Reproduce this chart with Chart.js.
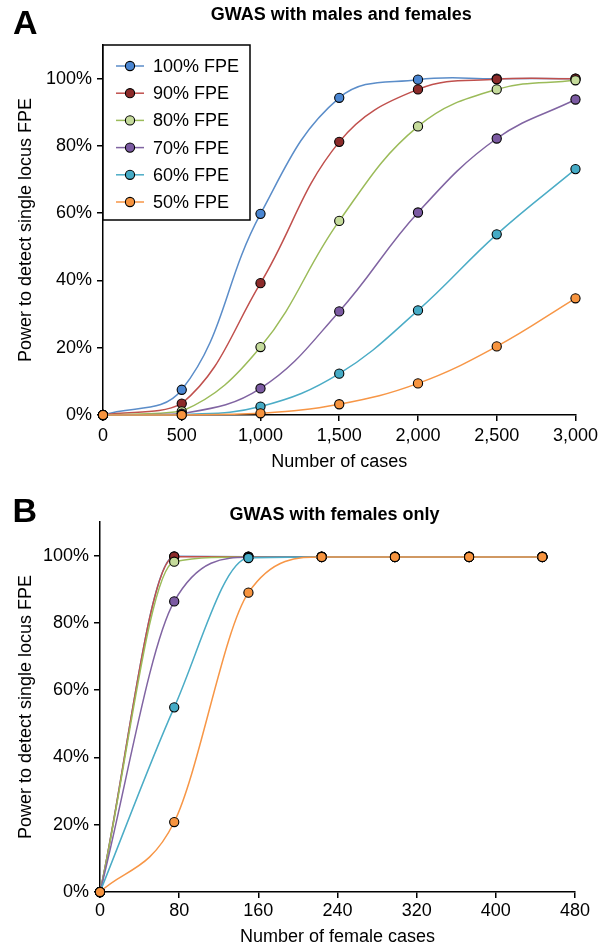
<!DOCTYPE html>
<html>
<head>
<meta charset="utf-8">
<title>GWAS power</title>
<script src="https://cdn.jsdelivr.net/npm/chart.js@4/dist/chart.umd.min.js"></script>
<style>
  html, body { margin: 0; padding: 0; background: #fff; }
  canvas { display: block; }
</style>
</head>
<body>
<canvas id="chartA" width="602" height="476"></canvas>
<canvas id="chartB" width="602" height="474"></canvas>
<script>
// series names and colours (line colour, marker fill)
const seriesLabels = ['100% FPE', '90% FPE', '80% FPE', '70% FPE', '60% FPE', '50% FPE'];
const lineColors = ['#5B8DC9', '#C0504D', '#9BBB59', '#8064A2', '#4BACC6', '#F79646'];
const markerColors = ['#4A86D2', '#8C2B2A', '#C5DB9B', '#7B5AA2', '#45ABC6', '#F7943F'];

// A: males and females
const casesA = [0, 500, 1000, 1500, 2000, 2500, 3000];
const powerA100 = [0, 7.5, 59.8, 94.3, 99.7, 100, 100];
const powerA90 = [0, 3.4, 39.2, 81.2, 96.8, 99.8, 100];
const powerA80 = [0, 1.1, 20.2, 57.7, 85.8, 96.8, 99.5];
const powerA70 = [0, 0.4, 7.9, 30.8, 60.2, 82.2, 93.8];
const powerA60 = [0, 0.1, 2.5, 12.3, 31.1, 53.7, 73.1];
const powerA50 = [0, 0, 0.5, 3.2, 9.4, 20.4, 34.7];

// B: females only
const casesB = [0, 75, 150, 224, 298, 373, 447];
const powerB100 = [0, 99.8, 99.7, 99.7, 99.7, 99.7, 99.7];
const powerB90 = [0, 99.7, 99.7, 99.7, 99.7, 99.7, 99.7];
const powerB80 = [0, 98.2, 99.6, 99.6, 99.6, 99.6, 99.6];
const powerB70 = [0, 86.4, 99.5, 99.6, 99.6, 99.6, 99.6];
const powerB60 = [0, 54.9, 99.3, 99.6, 99.6, 99.6, 99.6];
const powerB50 = [0, 20.8, 89.0, 99.6, 99.6, 99.6, 99.6];

const powerTicks = [0, 20, 40, 60, 80, 100];

const FONT = '"Liberation Sans", Arial, Helvetica, sans-serif';
Chart.defaults.font.family = FONT;
Chart.defaults.font.size = 18;
Chart.defaults.color = '#000';

function buildDatasets(xs, series, mode) {
  return series.map((ys, i) => ({
    label: seriesLabels[i],
    data: xs.map((x, k) => ({ x: x, y: ys[k] })),
    borderColor: lineColors[i],
    borderWidth: 1.5,
    backgroundColor: markerColors[i],
    pointBackgroundColor: markerColors[i],
    pointBorderColor: '#000',
    pointBorderWidth: 1.1,
    pointRadius: 4.6,
    tension: 0.4,
    cubicInterpolationMode: mode,
    clip: false,
    order: series.length - i
  }));
}

// panel letter and bold heading
const panelHeading = {
  id: 'panelHeading',
  afterDraw(chart, args, opts) {
    const ctx = chart.ctx;
    const area = chart.chartArea;
    ctx.save();
    ctx.fillStyle = '#000';
    ctx.textBaseline = 'alphabetic';
    ctx.font = 'bold 34px ' + FONT;
    ctx.fillText(opts.letter, opts.letterX, opts.letterBase);
    ctx.font = 'bold 18px ' + FONT;
    ctx.textAlign = 'center';
    ctx.textBaseline = 'middle';
    ctx.fillText(opts.title, (area.left + area.right) / 2 + opts.titleShift, opts.titleY);
    ctx.restore();
  }
};

// boxed legend sitting in the top-left corner of the plot
const insideLegend = {
  id: 'insideLegend',
  afterDatasetsDraw(chart, args, opts) {
    if (!opts.show) return;
    const ctx = chart.ctx;
    const left = chart.chartArea.left;
    const top = chart.chartArea.top;
    ctx.save();
    ctx.fillStyle = '#fff';
    ctx.fillRect(left, top, 147, 175);
    ctx.strokeStyle = '#000';
    ctx.lineWidth = 1.5;
    ctx.strokeRect(left, top, 147, 175);
    ctx.font = '18px ' + FONT;
    ctx.textBaseline = 'middle';
    chart.data.datasets.forEach((ds, i) => {
      const y = top + 21 + i * 27.2;
      ctx.strokeStyle = ds.borderColor;
      ctx.lineWidth = 1.5;
      ctx.beginPath();
      ctx.moveTo(left + 13, y);
      ctx.lineTo(left + 41, y);
      ctx.stroke();
      ctx.beginPath();
      ctx.arc(left + 27, y, 4.6, 0, Math.PI * 2);
      ctx.fillStyle = ds.pointBackgroundColor;
      ctx.fill();
      ctx.strokeStyle = '#000';
      ctx.lineWidth = 1.1;
      ctx.stroke();
      ctx.fillStyle = '#000';
      ctx.fillText(ds.label, left + 50, y + 1);
    });
    ctx.restore();
  }
};

function axisStyle() {
  return {
    grid: { display: true, drawOnChartArea: false, drawTicks: true, tickLength: 6, color: '#000', lineWidth: 1.5 },
    border: { display: true, color: '#000', width: 1.5 }
  };
}

function makeChart(id, cfg) {
  const ctx = document.getElementById(id).getContext('2d');
  return new Chart(ctx, {
    type: 'line',
    data: { datasets: cfg.datasets },
    options: {
      responsive: false,
      animation: false,
      layout: { padding: { top: cfg.top, right: cfg.right, bottom: 0, left: 0 } },
      plugins: {
        legend: { display: false },
        tooltip: { enabled: false },
        panelHeading: cfg.heading,
        insideLegend: { show: cfg.legend }
      },
      scales: {
        x: Object.assign(axisStyle(), {
          type: 'linear',
          min: 0,
          max: cfg.xMax,
          ticks: {
            stepSize: cfg.xStep,
            padding: cfg.xPad,
            autoSkip: false,
            maxRotation: 0,
            callback: v => v.toLocaleString('en-US')
          },
          title: { display: true, text: cfg.xTitle, font: { size: 18 }, padding: { top: 0, bottom: cfg.xTitlePad } },
          afterFit: scale => { scale.height = cfg.xHeight; }
        }),
        y: Object.assign(axisStyle(), {
          type: 'linear',
          min: 0,
          max: 110,
          ticks: { stepSize: 20, padding: 5, callback: v => v + '%' },
          afterBuildTicks: scale => {
            scale.ticks = powerTicks.map(v => ({ value: v }));
          },
          title: { display: true, text: 'Power to detect single locus FPE', font: { size: 18 }, padding: { top: 15, bottom: 0 } },
          afterFit: scale => { scale.width = cfg.yWidth; }
        })
      }
    },
    plugins: [panelHeading, insideLegend]
  });
}

makeChart('chartA', {
  datasets: buildDatasets(casesA, [powerA100, powerA90, powerA80, powerA70, powerA60, powerA50], 'default'),
  top: 45, right: 24, xHeight: 61, yWidth: 103,
  xMax: 3000, xStep: 500, xPad: 4, xTitlePad: 3,
  xTitle: 'Number of cases',
  legend: true,
  heading: { letter: 'A', letterX: 13, letterBase: 34, title: 'GWAS with males and females', titleY: 15.5, titleShift: 2 }
});

makeChart('chartB', {
  datasets: buildDatasets(casesB, [powerB100, powerB90, powerB80, powerB70, powerB60, powerB50], 'monotone'),
  top: 46, right: 27, xHeight: 58, yWidth: 100,
  xMax: 480, xStep: 80, xPad: 2, xTitlePad: 2,
  xTitle: 'Number of female cases',
  legend: false,
  heading: { letter: 'B', letterX: 12.5, letterBase: 45.7, title: 'GWAS with females only', titleY: 39.5, titleShift: -3 }
});
</script>
</body>
</html>
